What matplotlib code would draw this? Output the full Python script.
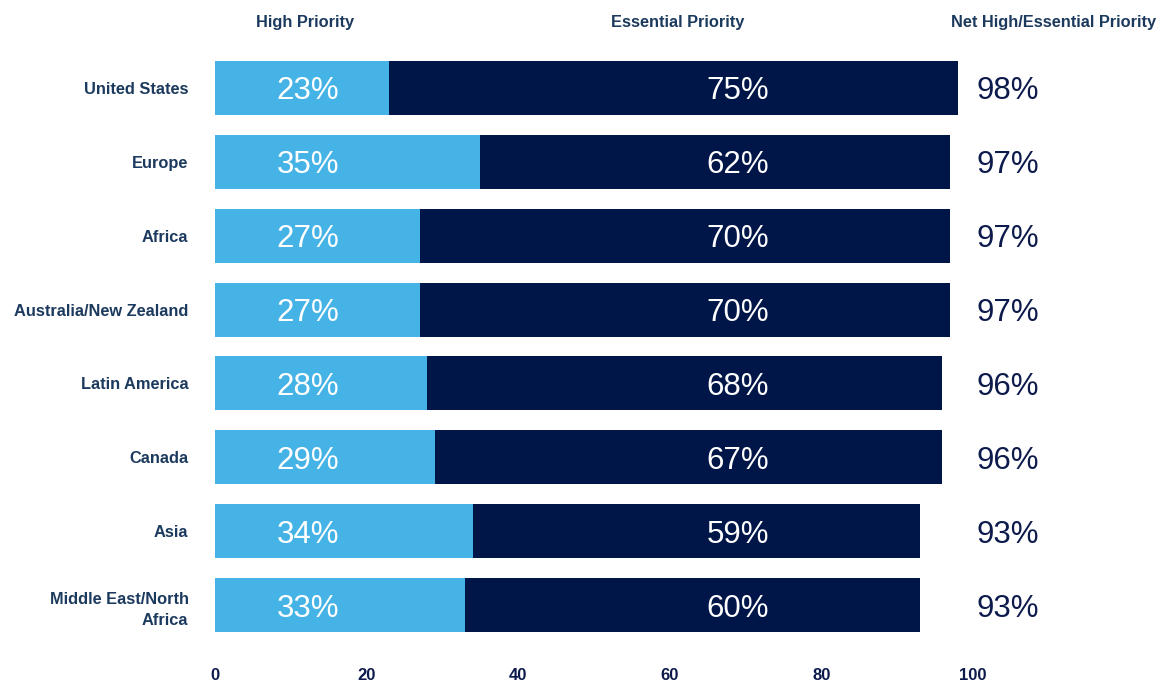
import matplotlib
matplotlib.use("Agg")
import matplotlib.pyplot as plt

regions = ["United States", "Europe", "Africa", "Australia/New Zealand",
           "Latin America", "Canada", "Asia", "Middle East/North\nAfrica"]
high_priority = [23, 35, 27, 27, 28, 29, 34, 33]
essential_priority = [75, 62, 70, 70, 68, 67, 59, 60]
net_priority = [98, 97, 97, 97, 96, 96, 93, 93]
column_titles = ["High Priority", "Essential Priority", "Net High/Essential Priority"]
x_ticks = [0, 20, 40, 60, 80, 100]

LIGHT = "#45B3E6"
DARK = "#001648"
LABEL = "#1C3A5E"
NAVY = "#0D1B4C"

plt.rcParams["font.family"] = ["Liberation Sans", "DejaVu Sans"]

fig = plt.figure(figsize=(11.65, 6.85), dpi=100)
ax = fig.add_axes([0.1845, 0.0628, 0.6505, 0.8627])

y = list(range(len(regions)))
ax.barh(y, high_priority, height=0.73, color=LIGHT)
ax.barh(y, essential_priority, left=high_priority, height=0.73, color=DARK)

# value labels sit in fixed columns under their headings
for yi, h, e, n in zip(y, high_priority, essential_priority, net_priority):
    ax.text(12.3, yi, f"{h}%", color="white", fontsize=22.5, ha="center",
            va="center_baseline")
    ax.text(69.0, yi, f"{e}%", color="white", fontsize=22.5, ha="center",
            va="center_baseline")
    ax.text(104.6, yi, f"{n}%", color=NAVY, fontsize=22.5, ha="center",
            va="center_baseline", clip_on=False)

for xpos, title in zip([11.9, 61.0, 110.6], column_titles):
    ax.text(xpos, -0.88, title, color=LABEL, fontsize=11.8, fontweight="bold",
            ha="center", va="center", clip_on=False)

ax.set_xlim(0, 100)
ax.set_ylim(len(regions) - 0.5, -0.5)
ax.set_yticks(y)
ax.set_yticklabels(regions, color=LABEL, fontsize=11.8, fontweight="bold",
                   linespacing=1.55)
ax.set_xticks(x_ticks)
ax.set_xticklabels([str(t) for t in x_ticks], color=NAVY, fontsize=12, fontweight="bold")
ax.tick_params(axis="both", length=0)
ax.tick_params(axis="x", pad=19)
ax.tick_params(axis="y", pad=19)
for s in ax.spines.values():
    s.set_visible(False)

fig.savefig("out.png", dpi=100, facecolor="white")
